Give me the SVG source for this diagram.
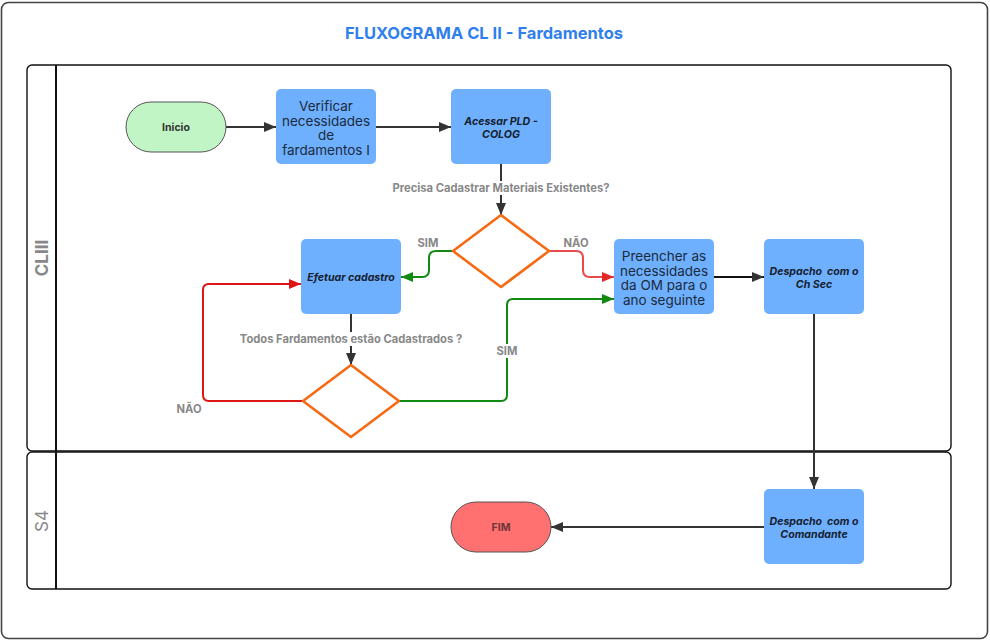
<svg xmlns="http://www.w3.org/2000/svg" width="990" height="642" viewBox="0 0 990 642">
<defs>
<style>
.frame{fill:#fff;stroke:#444;stroke-width:1.6}
.lane{fill:none;stroke:#111;stroke-width:1.4}
.hdr{stroke:#111;stroke-width:2}
.lanelbl{font-family:Inter,"Liberation Sans",sans-serif;font-size:17px;fill:#888;text-anchor:middle}
.title{font-family:Inter,"Liberation Sans",sans-serif;font-size:16.5px;font-weight:700;fill:#2f80ed;text-anchor:middle}
.box{fill:#6eb0fe;stroke:none}
.term{stroke:#555;stroke-width:1}
.dia{fill:#fff;stroke:#f56a12;stroke-width:2.6;stroke-linejoin:round}
.big{font-family:Inter,"Liberation Sans",sans-serif;font-size:13.5px;fill:#1c2a3c;text-anchor:middle}
.bi{font-family:Inter,"Liberation Sans",sans-serif;font-size:10.6px;font-weight:700;font-style:italic;fill:#15202e;text-anchor:middle}
.tl{font-family:Inter,"Liberation Sans",sans-serif;font-size:10.5px;font-weight:700;text-anchor:middle}
.el{font-family:Inter,"Liberation Sans",sans-serif;font-size:11.2px;font-weight:700;fill:#888;text-anchor:middle}
.c{fill:none;stroke-width:2}
.dk{stroke:#333}
.gr{stroke:#128a12}
.rd{stroke:#e84a4a}
.rd2{stroke:#dd1515}
</style>
<marker id="aD" viewBox="0 0 12 10" refX="12" refY="5" markerWidth="12" markerHeight="10" markerUnits="userSpaceOnUse" orient="auto"><path d="M0,0 L12,5 L0,10 Z" fill="#333"/></marker>
<marker id="aG" viewBox="0 0 12 10" refX="12" refY="5" markerWidth="12" markerHeight="10" markerUnits="userSpaceOnUse" orient="auto"><path d="M0,0 L12,5 L0,10 Z" fill="#128a12"/></marker>
<marker id="aR" viewBox="0 0 12 10" refX="12" refY="5" markerWidth="12" markerHeight="10" markerUnits="userSpaceOnUse" orient="auto"><path d="M0,0 L12,5 L0,10 Z" fill="#e12828"/></marker>
<marker id="aR2" viewBox="0 0 12 10" refX="12" refY="5" markerWidth="12" markerHeight="10" markerUnits="userSpaceOnUse" orient="auto"><path d="M0,0 L12,5 L0,10 Z" fill="#dd1515"/></marker>
</defs>

<rect class="frame" x="1.5" y="2.5" width="986" height="636" rx="7"/>
<text class="title" x="484" y="39">FLUXOGRAMA CL II - Fardamentos</text>

<g id="pool">
<rect class="lane" x="27" y="65" width="924" height="386" rx="5"/>
<rect class="lane" x="27" y="452" width="924" height="137" rx="5"/>
<line class="hdr" x1="56" y1="65" x2="56" y2="589"/>
<text class="lanelbl" font-weight="700" transform="translate(48,258) rotate(-90)">CLIII</text>
<text class="lanelbl" transform="translate(48,521) rotate(-90)">S4</text>
</g>

<g id="connectors">
<path class="c dk" d="M226,127 H276" marker-end="url(#aD)"/>
<path class="c dk" d="M376,127 H451" marker-end="url(#aD)"/>
<path class="c dk" stroke-width="1.5" d="M501,164 V215" marker-end="url(#aD)"/>
<path class="c gr" d="M453,251 H436 Q429,251 429,258 V270 Q429,277 422,277 H401" marker-end="url(#aG)"/>
<path class="c rd" d="M549,251 H576 Q583,251 583,258 V270 Q583,277 590,277 H614" marker-end="url(#aR)"/>
<path class="c dk" stroke-width="1.5" d="M351,314 V365" marker-end="url(#aD)"/>
<path class="c rd2" d="M303,401 H209 Q203,401 203,395 V290 Q203,284 209,284 H301" marker-end="url(#aR2)"/>
<path class="c gr" d="M399,401 H501 Q507,401 507,395 V305 Q507,299 513,299 H614" marker-end="url(#aG)"/>
<path class="c" stroke="#111" d="M714,277 H764" marker-end="url(#aD)"/>
<path class="c dk" d="M814,314 V489" marker-end="url(#aD)"/>
<path class="c dk" d="M764,527 H551" marker-end="url(#aD)"/>
<rect x="390" y="181" width="223" height="14" fill="#fff"/>
<text class="el" x="501" y="192">Precisa Cadastrar Materiais Existentes?</text>
<rect x="237" y="332" width="228" height="14" fill="#fff"/>
<text class="el" x="351" y="343">Todos Fardamentos estão Cadastrados ?</text>
<text class="el" x="428" y="247">SIM</text>
<text class="el" x="576" y="247">NÃO</text>
<text class="el" x="189" y="413">NÃO</text>
<rect x="493" y="344" width="28" height="14" fill="#fff"/>
<text class="el" x="507" y="355">SIM</text>
</g>

<g id="inicio">
<rect class="term" x="126" y="102" width="100" height="50" rx="25" fill="#c2f5c6"/>
<text class="tl" x="176" y="131" fill="#333">Inicio</text>
</g>
<g id="verificar">
<rect class="box" x="276" y="89" width="100" height="75" rx="5"/>
<text class="big" x="326" y="111">Verificar</text>
<text class="big" x="326" y="125.5">necessidades</text>
<text class="big" x="326" y="140">de</text>
<text class="big" x="326" y="154.5">fardamentos I</text>
</g>
<g id="acessar">
<rect class="box" x="451" y="89" width="100" height="75" rx="5"/>
<text class="bi" x="501" y="125">Acessar PLD -</text>
<text class="bi" x="501" y="137.5">COLOG</text>
</g>
<g id="decisao1">
<path class="dia" d="M501,215 L549,251 L501,287 L453,251 Z"/>
</g>
<g id="efetuar">
<rect class="box" x="301" y="239" width="100" height="75" rx="5"/>
<text class="bi" x="351" y="281">Efetuar cadastro</text>
</g>
<g id="preencher">
<rect class="box" x="614" y="239" width="100" height="75" rx="5"/>
<text class="big" x="664" y="261">Preencher as</text>
<text class="big" x="664" y="275.5">necessidades</text>
<text class="big" x="664" y="290">da OM para o</text>
<text class="big" x="664" y="304.5">ano seguinte</text>
</g>
<g id="chsec">
<rect class="box" x="764" y="239" width="100" height="75" rx="5"/>
<text class="bi" x="814" y="275" xml:space="preserve">Despacho  com o</text>
<text class="bi" x="814" y="287.5">Ch Sec</text>
</g>
<g id="decisao2">
<path class="dia" d="M351,365 L399,401 L351,437 L303,401 Z"/>
</g>
<g id="comandante">
<rect class="box" x="764" y="489" width="100" height="75" rx="5"/>
<text class="bi" x="814" y="525" xml:space="preserve">Despacho  com o</text>
<text class="bi" x="814" y="537.5">Comandante</text>
</g>
<g id="fim">
<rect class="term" x="451" y="502" width="100" height="50" rx="25" fill="#ff7070"/>
<text class="tl" x="501" y="531" fill="#6e3636">FIM</text>
</g>
</svg>
